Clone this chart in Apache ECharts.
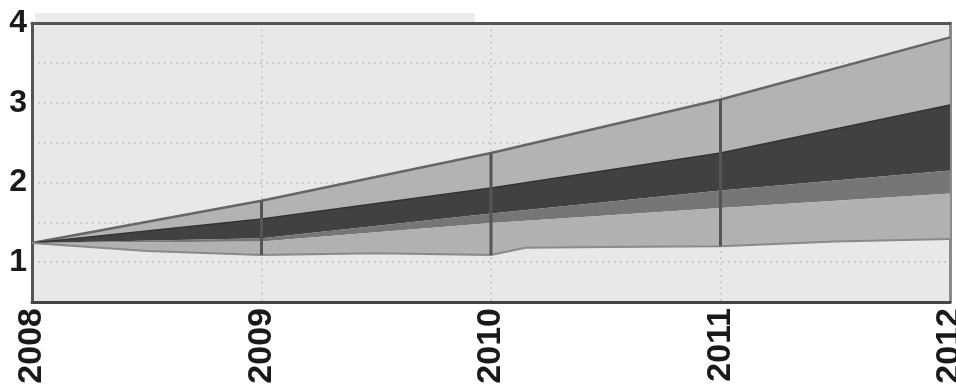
<!DOCTYPE html>
<html>
<head>
<meta charset="utf-8">
<script src="https://cdn.jsdelivr.net/npm/echarts@6/dist/echarts.min.js"></script>
<style>
  html, body { margin: 0; padding: 0; background: #ffffff; }
  #chart { width: 956px; height: 392px; }
</style>
</head>
<body>
<div id="chart"></div>
<script>
// ---- data ----
const years = [2008, 2009, 2010, 2011, 2012];
const xLabels = ['2008', '2009', '2010', '2011', '2012'];
const yLabels = ['1', '2', '3', '4'];

// upper edge of the fan (outer light band top)
const upperEdge = [1.24, 1.77, 2.37, 3.04, 3.82];
// top of the dark central band
const darkTop = [1.24, 1.54, 1.93, 2.37, 2.97];
// bottom of the dark band / top of the mid band
const darkBottom = [1.24, 1.30, 1.61, 1.90, 2.15];
// bottom of the mid band / top of lower light band
const midBottom = [1.24, 1.26, 1.49, 1.68, 1.86];
// lower edge of the fan (read at finer steps)
const lowerX = [2008, 2008.5, 2009, 2009.5, 2010, 2010.15, 2010.5, 2011, 2011.5, 2012];
const lowerEdge = [1.24, 1.14, 1.09, 1.11, 1.09, 1.18, 1.19, 1.20, 1.26, 1.29];
// years with a vertical range marker
const markerYears = [2009, 2010, 2011];

// ---- build chart ----
function zip(xs, ys) { return xs.map((x, i) => [x, ys[i]]); }
function lookup(xs, ys, x) { return ys[xs.indexOf(x)]; }

function band(upX, upY, loX, loY, color) {
  return {
    type: 'custom',
    silent: true,
    data: [[upX[0], upY[0]]],
    encode: { x: 0, y: 1 },
    renderItem: function (params, api) {
      const top = upX.map((x, i) => api.coord([x, upY[i]]));
      const bot = loX.map((x, i) => api.coord([x, loY[i]])).reverse();
      return { type: 'polygon', shape: { points: top.concat(bot) }, style: { fill: color } };
    },
    z: 2
  };
}

const chart = echarts.init(document.getElementById('chart'), null, { renderer: 'canvas' });

const gridLine = { show: true, lineStyle: { color: '#cdcdcd', width: 2, type: [2, 4] } };

const option = {
  animation: false,
  backgroundColor: '#ffffff',
  graphic: [{ type: 'rect', left: 35, top: 13, shape: { width: 440, height: 9 }, style: { fill: '#ececec' }, silent: true }],
  grid: {
    left: 32, right: 6, top: 23, bottom: 90, show: true, backgroundColor: '#e8e8e8', borderWidth: 0,
    containLabel: false, outerBoundsMode: 'none'
  },
  xAxis: [{
    type: 'value', min: 2008, max: 2012, interval: 1,
    axisLine: { show: true, onZero: false, lineStyle: { color: '#444', width: 3 } },
    axisTick: { show: false },
    splitLine: gridLine,
    axisLabel: {
      rotate: 90, margin: 6, fontSize: 34, fontWeight: 'bold', color: '#1a1a1a',
      fontFamily: 'Liberation Sans, Arial, sans-serif',
      showMinLabel: true, showMaxLabel: true, hideOverlap: false,
      formatter: v => xLabels[years.indexOf(Math.round(v))] || ''
    }
  }, {
    type: 'value', min: 2008, max: 2012, position: 'top',
    axisLine: { show: true, onZero: false, lineStyle: { color: '#555', width: 3 } },
    axisTick: { show: false }, axisLabel: { show: false }, splitLine: { show: false }
  }],
  yAxis: [{
    type: 'value', min: 0.5, max: 4, interval: 0.5,
    axisLine: { show: true, onZero: false, lineStyle: { color: '#555', width: 3 } },
    axisTick: { show: false },
    splitLine: gridLine,
    axisLabel: {
      margin: 5, fontSize: 32, fontWeight: 'bold', color: '#1a1a1a',
      fontFamily: 'Liberation Sans, Arial, sans-serif',
      formatter: v => { const s = String(Math.round(v)); return (Math.abs(v - Math.round(v)) < 1e-6 && yLabels.includes(s)) ? s : ''; }
    }
  }, {
    type: 'value', min: 0.5, max: 4, position: 'right',
    axisLine: { show: true, onZero: false, lineStyle: { color: '#8a8a8a', width: 3 } },
    axisTick: { show: false }, axisLabel: { show: false }, splitLine: { show: false }
  }],
  series: [
    band(years, upperEdge, years, darkTop, '#b3b3b3'),
    band(years, darkTop, years, darkBottom, '#414141'),
    band(years, darkBottom, years, midBottom, '#767676'),
    band(years, midBottom, lowerX, lowerEdge, '#b1b1b1'),
    {
      type: 'line', data: zip(years, upperEdge), symbol: 'none', silent: true,
      lineStyle: { color: '#666', width: 2.5 }, z: 3
    },
    {
      type: 'line', data: zip(years, darkTop), symbol: 'none', silent: true,
      lineStyle: { color: '#333', width: 1.5 }, z: 3
    },
    {
      type: 'line', data: zip(lowerX, lowerEdge), symbol: 'none', silent: true,
      lineStyle: { color: '#8a8a8a', width: 2 }, z: 3
    },
    {
      type: 'custom', silent: true, z: 4,
      data: markerYears.map(y => [y, lookup(lowerX, lowerEdge, y), lookup(years, upperEdge, y)]),
      encode: { x: 0, y: [1, 2] },
      renderItem: function (params, api) {
        const a = api.coord([api.value(0), api.value(1)]);
        const b = api.coord([api.value(0), api.value(2)]);
        return { type: 'line', shape: { x1: a[0], y1: a[1], x2: b[0], y2: b[1] }, style: { stroke: '#555', lineWidth: 3 } };
      }
    }
  ]
};
chart.setOption(option);
</script>
</body>
</html>
